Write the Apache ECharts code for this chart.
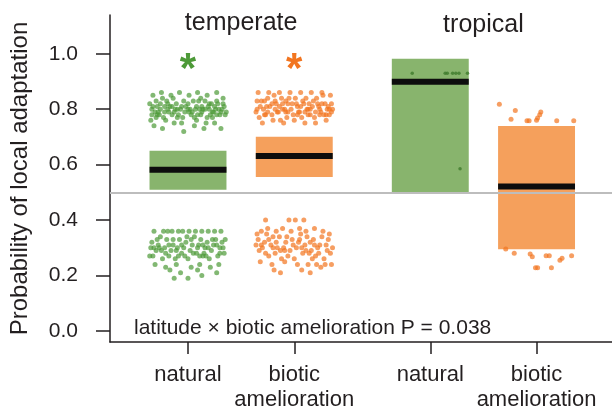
<!DOCTYPE html>
<html><head><meta charset="utf-8">
<script src="https://cdn.jsdelivr.net/npm/echarts@6/dist/echarts.min.js"></script>
<style>html,body{margin:0;padding:0;background:#fff}#c{width:612px;height:410px}</style>
</head><body><div id="c"></div>
<script>
// ---------- data ----------
const groupNames = ['temperate', 'tropical'];
const categories = ['natural', 'biotic\namelioration', 'natural', 'biotic\namelioration'];
const means = [0.582, 0.631, 0.899, 0.521];
const ciLower = [0.509, 0.555, 0.500, 0.295];
const ciUpper = [0.650, 0.701, 0.982, 0.739];
const yTicks = [0.0, 0.2, 0.4, 0.6, 0.8, 1.0];
const chanceLevel = 0.5;
const annotation = 'latitude \u00d7 biotic amelioration P = 0.038';
const significant = [true, true, false, false];

// points: [horizontal jitter, probability]
const ptsTempNatural = [
[-0.34,0.80],[-0.30,0.83],[-0.27,0.78],[-0.22,0.81],[-0.18,0.79],[-0.14,0.84],[-0.10,0.80],[-0.05,0.77],[0.00,0.82],[0.04,0.79],[0.08,0.81],[0.12,0.78],[0.16,0.83],[0.20,0.80],[0.24,0.79],[0.28,0.82],[0.32,0.80],[0.35,0.78],
[-0.35,0.76],[-0.31,0.79],[-0.26,0.82],[-0.23,0.77],[-0.19,0.80],[-0.15,0.78],[-0.11,0.82],[-0.07,0.80],[-0.03,0.79],[0.02,0.80],[0.06,0.77],[0.10,0.83],[0.14,0.80],[0.18,0.77],[0.22,0.82],[0.26,0.80],[0.30,0.78],[0.34,0.81],
[-0.33,0.85],[-0.25,0.86],[-0.16,0.85],[-0.08,0.86],[0.01,0.85],[0.09,0.86],[0.18,0.85],[0.27,0.86],[0.33,0.84],
[-0.32,0.74],[-0.24,0.73],[-0.13,0.75],[-0.04,0.72],[0.06,0.74],[0.15,0.73],[0.25,0.75],[0.31,0.73],
[-0.29,0.81],[-0.20,0.83],[-0.12,0.80],[-0.02,0.81],[0.05,0.83],[0.13,0.81],[0.21,0.78],[0.29,0.80],
[-0.36,0.82],[-0.28,0.79],[-0.17,0.81],[-0.09,0.78],[0.03,0.78],[0.11,0.80],[0.19,0.81],[0.27,0.78],[0.36,0.79],
[-0.21,0.76],[-0.06,0.75],[0.08,0.76],[0.23,0.77],[-0.30,0.77],[0.17,0.75],
[-0.33,0.81],[-0.26,0.80],[-0.19,0.82],[-0.13,0.79],[-0.06,0.81],[0.01,0.79],[0.07,0.80],[0.13,0.79],[0.20,0.82],[0.25,0.81],[0.31,0.79],[-0.29,0.78],[-0.22,0.79],[-0.15,0.81],[-0.04,0.83],[0.09,0.78],[0.16,0.80],[0.23,0.79],[0.33,0.82],[-0.10,0.77],[0.00,0.80],[-0.34,0.78],[0.27,0.83],[-0.24,0.84],[0.12,0.84],
[-0.34,0.32],[-0.30,0.29],[-0.26,0.34],[-0.22,0.30],[-0.18,0.27],[-0.14,0.33],[-0.10,0.30],[-0.06,0.28],[-0.02,0.32],[0.02,0.29],[0.06,0.34],[0.10,0.31],[0.14,0.27],[0.18,0.32],[0.22,0.29],[0.26,0.33],[0.30,0.30],[0.34,0.28],
[-0.33,0.27],[-0.28,0.31],[-0.24,0.26],[-0.20,0.33],[-0.16,0.29],[-0.12,0.26],[-0.08,0.33],[-0.04,0.30],[0.00,0.26],[0.04,0.31],[0.08,0.28],[0.12,0.33],[0.16,0.30],[0.20,0.26],[0.24,0.31],[0.28,0.27],[0.32,0.32],
[-0.32,0.36],[-0.23,0.36],[-0.19,0.36],[-0.15,0.36],[-0.09,0.36],[-0.05,0.36],[0.01,0.36],[0.07,0.36],[0.13,0.36],[0.19,0.36],[0.25,0.36],[0.31,0.36],
[-0.31,0.24],[-0.21,0.23],[-0.11,0.24],[0.03,0.23],[0.11,0.24],[0.21,0.23],[0.29,0.24],
[-0.17,0.22],[-0.07,0.21],[0.09,0.22],[0.27,0.21],
[-0.13,0.19],[0.00,0.19],[0.13,0.20],
[-0.27,0.30],[-0.01,0.34],[0.15,0.28],[0.35,0.33],[-0.35,0.30],
[-0.32,0.30],[-0.25,0.29],[-0.18,0.31],[-0.11,0.29],[-0.03,0.27],[0.03,0.33],[0.09,0.30],[0.17,0.27],[0.23,0.33],[0.30,0.28],[-0.29,0.33],[-0.14,0.31],[-0.06,0.31],[0.05,0.28],[0.14,0.31],[0.27,0.31],[-0.21,0.28],[0.19,0.30],[0.33,0.30],[-0.09,0.27],[0.11,0.27],[-0.36,0.27]
];
const ptsTempBiotic = [
[-0.35,0.80],[-0.31,0.83],[-0.27,0.78],[-0.23,0.81],[-0.19,0.85],[-0.15,0.79],[-0.11,0.82],[-0.07,0.77],[-0.03,0.80],[0.01,0.84],[0.05,0.79],[0.09,0.82],[0.13,0.78],[0.17,0.81],[0.21,0.84],[0.25,0.79],[0.29,0.82],[0.33,0.78],
[-0.33,0.77],[-0.29,0.80],[-0.25,0.84],[-0.21,0.78],[-0.17,0.82],[-0.13,0.76],[-0.09,0.80],[-0.05,0.84],[-0.01,0.78],[0.03,0.81],[0.07,0.77],[0.11,0.84],[0.15,0.80],[0.19,0.77],[0.23,0.81],[0.27,0.85],[0.31,0.80],[0.35,0.82],
[-0.34,0.86],[-0.24,0.86],[-0.14,0.86],[-0.04,0.86],[0.06,0.86],[0.16,0.86],[0.26,0.86],[0.34,0.85],
[-0.30,0.75],[-0.20,0.76],[-0.10,0.75],[0.00,0.76],[0.10,0.75],[0.20,0.75],[0.30,0.76],
[-0.36,0.79],[-0.26,0.81],[-0.16,0.79],[-0.06,0.82],[0.04,0.79],[0.14,0.82],[0.24,0.78],[0.32,0.81],
[-0.28,0.83],[-0.18,0.80],[-0.08,0.79],[0.02,0.82],[0.12,0.80],[0.22,0.82],[0.28,0.78],[0.36,0.80],[-0.12,0.84],[0.08,0.83],
[-0.32,0.81],[-0.25,0.79],[-0.18,0.83],[-0.11,0.80],[-0.02,0.82],[0.06,0.81],[0.13,0.80],[0.20,0.79],[0.26,0.82],[0.33,0.80],[-0.28,0.78],[-0.21,0.82],[-0.14,0.81],[-0.06,0.79],[0.03,0.78],[0.10,0.79],[0.18,0.83],[0.24,0.80],[0.30,0.78],[-0.35,0.83],[0.35,0.79],[-0.08,0.83],[0.15,0.78],
[-0.34,0.33],[-0.30,0.30],[-0.26,0.35],[-0.22,0.31],[-0.18,0.28],[-0.14,0.34],[-0.10,0.30],[-0.06,0.27],[-0.02,0.33],[0.02,0.30],[0.06,0.35],[0.10,0.31],[0.14,0.28],[0.18,0.33],[0.22,0.30],[0.26,0.34],[0.30,0.31],[0.34,0.28],
[-0.33,0.29],[-0.28,0.32],[-0.24,0.27],[-0.20,0.34],[-0.16,0.30],[-0.12,0.26],[-0.08,0.32],[-0.04,0.29],[0.00,0.26],[0.04,0.32],[0.08,0.28],[0.12,0.34],[0.16,0.29],[0.20,0.27],[0.24,0.31],[0.28,0.26],[0.32,0.33],
[-0.31,0.36],[-0.25,0.37],[-0.17,0.36],[-0.11,0.37],[-0.03,0.36],[0.05,0.37],[0.11,0.36],[0.19,0.37],[0.27,0.36],
[-0.27,0.40],[-0.05,0.40],[0.01,0.40],[0.09,0.40],
[-0.32,0.25],[-0.21,0.24],[-0.09,0.25],[0.03,0.24],[0.13,0.24],[0.21,0.24],[0.29,0.24],[0.35,0.24],
[-0.19,0.22],[0.07,0.22],[0.25,0.23],
[-0.13,0.21],[0.15,0.21],
[-0.36,0.31],[0.36,0.30],[-0.07,0.34],[0.17,0.26],
[-0.31,0.31],[-0.24,0.33],[-0.17,0.32],[-0.09,0.29],[-0.01,0.31],[0.07,0.30],[0.15,0.32],[0.23,0.28],[0.31,0.29],[-0.27,0.28],[-0.13,0.29],[0.05,0.33],[0.19,0.31],[-0.35,0.35],[0.33,0.35],[-0.20,0.30],[0.11,0.29]
];
const ptsTropNatural = [
[-0.17,0.93],[0.14,0.93],[0.16,0.93],[0.21,0.93],[0.24,0.93],[0.27,0.93],[0.35,0.93],[0.28,0.585]
];
const ptsTropBiotic = [
[-0.35,0.818],[-0.20,0.795],[-0.24,0.764],[-0.09,0.758],[-0.07,0.758],[0.00,0.760],[0.01,0.768],[0.03,0.780],[0.04,0.790],[0.19,0.758],[0.35,0.758],
[-0.29,0.296],[-0.21,0.280],[-0.06,0.278],[-0.04,0.268],[0.09,0.271],[0.12,0.271],[0.22,0.255],[0.24,0.262],[0.33,0.271],[-0.01,0.228],[0.01,0.228],[0.14,0.228]
];

// ---------- layout / style ----------
const POS = [1, 2, 3.28, 4.28];
const HALF = 0.362;
const FONT = "'Liberation Sans', Arial, Helvetica, sans-serif";
const TXT = '#231f20';
const boxColors = ['#88b46d', '#f5a05c'];
const ptColors = ['#4d9a38', '#f27520'];
const allPts = [ptsTempNatural, ptsTempBiotic, ptsTropNatural, ptsTropBiotic];

const chart = echarts.init(document.getElementById('c'), null, {renderer: 'canvas'});

const boxData = categories.map((c, i) => [POS[i], ciLower[i], ciUpper[i], means[i], i]);

const scatterSeries = allPts.map((pts, i) => ({
  type: 'scatter',
  z: 4,
  symbolSize: i === 2 ? 3.5 : 5,
  itemStyle: {color: i === 2 ? '#3e7a2c' : ptColors[i % 2], opacity: i === 2 ? 0.8 : 0.7},
  data: pts.map(p => [POS[i] + p[0], p[1]]),
  silent: true
}));

chart.setOption({
  animation: false,
  grid: {left: 110, right: 0, top: 15, bottom: 68, containLabel: false, outerBoundsMode: 'none'},
  xAxis: {
    type: 'value', min: 0.266, max: 4.99,
    splitLine: {show: false},
    axisLine: {show: true, onZero: false, lineStyle: {color: '#231f20', width: 1.5}},
    axisTick: {show: true, length: 12, lineStyle: {color: '#231f20', width: 1.5}, customValues: POS},
    axisLabel: {
      customValues: POS, margin: 20, fontFamily: FONT, fontSize: 22, color: TXT, lineHeight: 25,
      formatter: v => { const i = POS.findIndex(p => Math.abs(p - v) < 1e-6); return i >= 0 ? categories[i] : ''; }
    }
  },
  yAxis: {
    type: 'value', min: -0.04, max: 1.14,
    name: 'Probability of local adaptation', nameLocation: 'middle', nameGap: 78, nameRotate: 90,
    nameTextStyle: {fontFamily: FONT, fontSize: 24, color: TXT},
    splitLine: {show: false},
    axisLine: {show: true, onZero: false, lineStyle: {color: '#231f20', width: 1.5}},
    axisTick: {show: true, length: 14, lineStyle: {color: '#231f20', width: 1.5}, customValues: yTicks},
    axisLabel: {customValues: yTicks, margin: 32, fontFamily: FONT, fontSize: 21, color: TXT, formatter: v => v.toFixed(1)}
  },
  series: [
    {
      type: 'line', data: [], z: 1, silent: true,
      markLine: {silent: true, symbol: ['none', 'none'], label: {show: false},
        lineStyle: {color: '#bdbdbd', width: 2, type: 'solid'}, data: [{yAxis: chanceLevel}]}
    },
    {
      type: 'custom', z: 2, silent: true,
      data: boxData,
      encode: {x: 0, y: [1, 2, 3]},
      renderItem: (params, api) => {
        const x = api.value(0), lo = api.value(1), hi = api.value(2), m = api.value(3), i = api.value(4);
        const a = api.coord([x - HALF, hi]);
        const b = api.coord([x + HALF, lo]);
        const mm = api.coord([x, m]);
        return {type: 'group', children: [
          {type: 'rect', shape: {x: a[0], y: a[1], width: b[0] - a[0], height: b[1] - a[1]}, style: {fill: boxColors[i % 2]}},
          {type: 'rect', shape: {x: a[0], y: mm[1] - 3, width: b[0] - a[0], height: 6}, style: {fill: '#0d0d0d'}}
        ]};
      }
    },
    ...scatterSeries
  ]
});

// text annotations placed through the axes
const px = (x, y) => chart.convertToPixel({gridIndex: 0}, [x, y]);
const gT = px((POS[0] + POS[1]) / 2, 1.11);
const gR = px((POS[2] + POS[3]) / 2, 1.11);
const graphics = [
  {type: 'text', x: gT[0], y: gT[1], style: {text: groupNames[0], font: `25px ${FONT}`, fill: TXT, align: 'center', verticalAlign: 'middle'}},
  {type: 'text', x: gR[0], y: gR[1] + 2, style: {text: groupNames[1], font: `25px ${FONT}`, fill: TXT, align: 'center', verticalAlign: 'middle'}}
];
significant.forEach((s, i) => {
  if (!s) return;
  const p = px(POS[i], 0.972);
  graphics.push({type: 'text', x: p[0], y: p[1] + 9, style: {text: '*', font: `bold 42px ${FONT}`, fill: ptColors[i % 2], align: 'center', verticalAlign: 'middle'}});
});
const an = px(0.492, 0.01);
graphics.push({type: 'text', x: an[0], y: an[1], style: {text: annotation, font: `21px ${FONT}`, fill: TXT, align: 'left', verticalAlign: 'middle'}});
chart.setOption({graphic: graphics});
</script>
</body></html>
